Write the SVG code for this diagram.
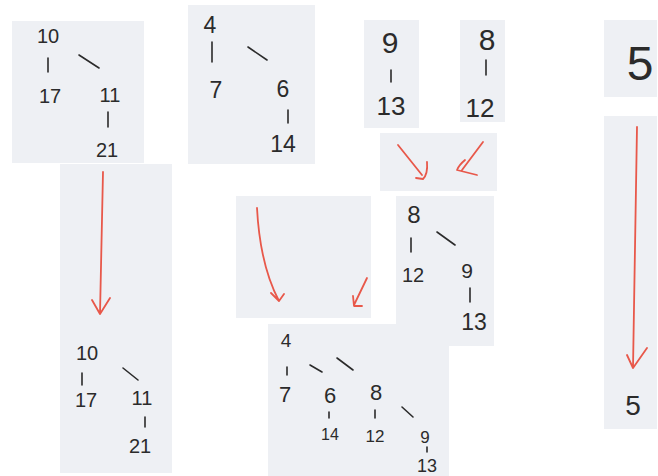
<svg xmlns="http://www.w3.org/2000/svg" width="658" height="476" viewBox="0 0 658 476">
<style>
.p{fill:#eef0f4;stroke:none}
text{font-family:"Liberation Sans","DejaVu Sans",sans-serif;fill:#2b2b2b;text-anchor:middle}
.e{stroke:#2b2b2b;stroke-width:1.6;stroke-linecap:round;fill:none}
.a{stroke:#e8584a;stroke-width:1.8;stroke-linecap:round;stroke-linejoin:round;fill:none}
</style>
<rect width="658" height="476" fill="#ffffff"/>
<g id="panels">
<rect class="p" x="12" y="21" width="132" height="142"/>
<rect class="p" x="188" y="5" width="127" height="159"/>
<rect class="p" x="364" y="20" width="55" height="108"/>
<rect class="p" x="460" y="20" width="45" height="102"/>
<rect class="p" x="604" y="20" width="53" height="77"/>
<rect class="p" x="380" y="133" width="117" height="58"/>
<rect class="p" x="604" y="116" width="53" height="313"/>
<rect class="p" x="60" y="164" width="112" height="309"/>
<rect class="p" x="236" y="196" width="135" height="122"/>
<rect class="p" x="396" y="196" width="98" height="150"/>
<rect class="p" x="268" y="324" width="181" height="152"/>
</g>
<g id="tree-10" font-size="20">
<text x="48" y="43">10</text>
<text x="50" y="103">17</text>
<text x="110" y="102">11</text>
<text x="107" y="157">21</text>
</g>
<g id="tree-4" font-size="23">
<text x="210" y="33">4</text>
<text x="216" y="98">7</text>
<text x="283" y="97">6</text>
<text x="283" y="152">14</text>
</g>
<g id="tree-9">
<text x="390" y="53" font-size="30">9</text>
<text x="391" y="115" font-size="26">13</text>
</g>
<g id="tree-8">
<text x="487" y="50" font-size="30">8</text>
<text x="480" y="117" font-size="26">12</text>
</g>
<g id="node-5-top">
<text x="640" y="80" font-size="48">5</text>
</g>
<g id="node-5-bottom">
<text x="633" y="415" font-size="28">5</text>
</g>
<g id="tree-10-result" font-size="20">
<text x="87" y="360">10</text>
<text x="86" y="407">17</text>
<text x="142" y="405">11</text>
<text x="140" y="453">21</text>
</g>
<g id="tree-8-merged">
<text x="414" y="223" font-size="24">8</text>
<text x="413" y="282" font-size="20">12</text>
<text x="467" y="278" font-size="21">9</text>
<text x="474" y="330" font-size="23">13</text>
</g>
<g id="tree-4-result">
<text x="286" y="347" font-size="19">4</text>
<text x="285" y="402" font-size="22">7</text>
<text x="330" y="403" font-size="22">6</text>
<text x="376" y="400" font-size="22">8</text>
<text x="330" y="440" font-size="16">14</text>
<text x="375" y="442" font-size="17">12</text>
<text x="425" y="443" font-size="17">9</text>
<text x="427" y="472" font-size="18">13</text>
</g>
<g id="connectors">
<path class="e" d="M48,58 L48,72 M79,55 L99,68 M108,112 L108,127"/>
<path class="e" d="M212,42 L212,62 M248,47 L267,60 M288,110 L288,123"/>
<path class="e" d="M391,70 L391,82 M486,60 L486,75"/>
<path class="e" d="M82,373 L82,385 M123,368 L138,380 M145,417 L145,427"/>
<path class="e" d="M411,238 L411,252 M437,232 L455,245 M470,288 L470,302"/>
<path class="e" d="M287,367 L287,375 M310,365 L322,372 M337,358 L353,370 M329,412 L329,418 M375,410 L375,418 M402,407 L413,417 M427,447 L427,452"/>
<path class="a" d="M398,145 L422,175 M427,162 Q428,174 423,179 L416,178"/>
<path class="a" d="M483,142 L462,170 M465,160 Q459,165 457,170 L477,175"/>
<path class="a" d="M103,172 L100,314 M92,300 L100,314 L110,298"/>
<path class="a" d="M257,208 Q260,265 279,301 M271,293 L279,301 L284,294"/>
<path class="a" d="M367,278 L354,305 M353,296 L354,306 L362,306"/>
<path class="a" d="M637,127 L633,368 M627,355 L633,368 L647,348"/>
</g>
</svg>
